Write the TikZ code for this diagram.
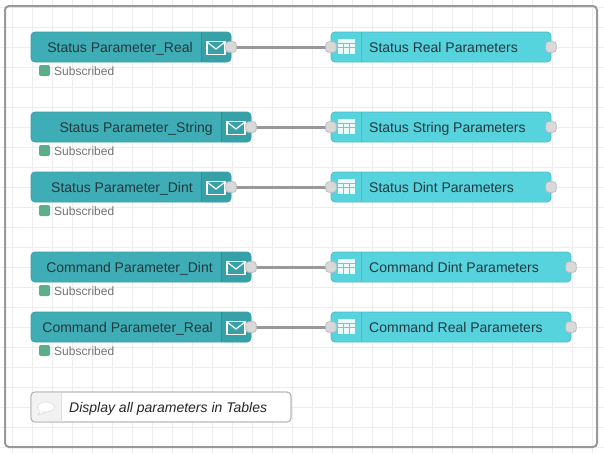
\documentclass[tikz,border=0pt]{standalone}
\usepackage{fontspec}
\setmainfont{Liberation Sans}
\definecolor{gridc}{HTML}{EDEDED}
\definecolor{framec}{HTML}{999999}
\definecolor{inc}{HTML}{3FADB5}
\definecolor{inb}{HTML}{38A0A7}
\definecolor{indiv}{HTML}{2F8E95}
\definecolor{outc}{HTML}{57D3DE}
\definecolor{outb}{HTML}{4DBBC5}
\definecolor{labc}{HTML}{22383E}
\definecolor{portc}{HTML}{D9D9D9}
\definecolor{portb}{HTML}{BDBDBD}
\definecolor{wirec}{HTML}{999999}
\definecolor{statc}{HTML}{5AAE8A}
\tikzset{x=1pt,y=-1pt,
  innode/.style={draw=inb,line width=.8pt,fill=inc,rounded corners=4pt,anchor=west,minimum height=30pt,inner sep=0pt,outer sep=0pt},
  outnode/.style={draw=outb,line width=.8pt,fill=outc,rounded corners=4pt,anchor=west,minimum height=30pt,inner sep=0pt,outer sep=0pt},
  port/.style={draw=portb,line width=.8pt,fill=portc,rounded corners=3pt,minimum size=10.5pt,inner sep=0pt,outer sep=0pt},
  lab/.style={text=labc,font=\fontsize{14}{16}\selectfont,inner sep=0pt},
  stat/.style={fill=statc,draw=none,rounded corners=2pt,minimum size=11pt,inner sep=0pt},
  stattext/.style={text=black!55,font=\fontsize{12}{14}\selectfont,anchor=base west,inner sep=0pt},
  wire/.style={draw=wirec,line width=3pt},
  icon/.style={draw=white,line width=1.4pt}}
% #1 name, #2 y, #3 width, #4 label, #5 right width, #6 right label
\newcommand{\flowrow}[6]{%
  \node[innode,minimum width=#3pt] (in#1) at (31,#2) {};
  \fill[inb,rounded corners=4pt] (31+#3-30,#2-15) rectangle (31+#3,#2+15);
  \fill[inb] (31+#3-30,#2-15) rectangle (31+#3-10,#2+15);
  \draw[indiv,line width=.5pt] (31+#3-30,#2-15) -- (31+#3-30,#2+15);
  \node[lab,anchor=base east] (tin#1) at (31+#3-38,#2+5) {#4};
  \draw[icon,line join=round] (31+#3-24,#2-5.5) rectangle (31+#3-6,#2+7.5);
  \draw[icon,line width=1.2pt] (31+#3-24,#2-5) -- (31+#3-15,#2+2) -- (31+#3-6,#2-5);
  \node[stat] (st#1) at (44.5,#2+23.5) {};
  \node[stattext] (stt#1) at (54,#2+28) {Subscribed};
  \node[outnode,minimum width=#5pt] (out#1) at (331,#2) {};
  \draw[outb,line width=.6pt] (361,#2-15) -- (361,#2+15);
  \node[lab,anchor=base west] (tout#1) at (369,#2+5) {#6};
  \fill[white!88!outc] (338,#2-8) rectangle (355,#2-3.6);
  \foreach \xx in {338,344,350}{\foreach \yy in {-3,0.7,4.4}{
    \fill[white!88!outc] (\xx,#2+\yy) rectangle (\xx+5,#2+\yy+3);}}
  \node[port] (pa#1) at (31+#3,#2) {};
  \node[port] (pb#1) at (331,#2) {};
  \node[port] (pc#1) at (331+#5,#2) {};
  \begin{pgfonlayer}{wires}
  \draw[wire] (pa#1) -- (pb#1);
  \end{pgfonlayer}
}
\pgfdeclarelayer{wires}
\pgfdeclarelayer{bg}
\pgfsetlayers{bg,wires,main}
\begin{document}
\begin{tikzpicture}
\useasboundingbox (0,0) rectangle (604,453);
\begin{pgfonlayer}{bg}
\fill[white] (0,0) rectangle (604,453);
\foreach \gx in {12,32,...,592} {\draw[gridc,line width=.8pt] (\gx,0) -- (\gx,453);}
\foreach \gy in {7,27,...,447} {\draw[gridc,line width=.8pt] (0,\gy) -- (604,\gy);}
\node[draw=framec,line width=2pt,rounded corners=4pt,minimum width=592pt,minimum height=441pt,inner sep=0pt,outer sep=0pt,anchor=north west] (frame) at (5,6) {};
\end{pgfonlayer}
\flowrow{a}{47}{200}{Status Parameter\_Real}{220}{Status Real Parameters}
\flowrow{b}{127}{220}{Status Parameter\_String}{220}{Status String Parameters}
\flowrow{c}{187}{200}{Status Parameter\_Dint}{220}{Status Dint Parameters}
\flowrow{d}{267}{220}{Command Parameter\_Dint}{240}{Command Dint Parameters}
\flowrow{e}{327}{220}{Command Parameter\_Real}{240}{Command Real Parameters}
\node[draw=black!30,line width=.8pt,fill=white,rounded corners=4pt,minimum width=260pt,minimum height=30pt,inner sep=0pt,outer sep=0pt,anchor=west] (cmt) at (31,407) {};
\begin{scope}
\clip[rounded corners=4pt] (31.5,392.5) rectangle (291,421.5);
\fill[black!5] (31,392) rectangle (61,422);
\end{scope}
\draw[black!30,line width=.8pt,rounded corners=4pt] (31,392) rectangle (291,422);
\draw[black!12,line width=.6pt] (61,392.5) -- (61,421.5);
\draw[white,fill=white,draw=black!14,line width=.6pt] (41,410) -- (38,415) -- (46,412) -- cycle;
\draw[fill=white,draw=black!14,line width=.6pt] (46,407) ellipse (8.5pt and 5pt);
\fill[white] (42,410) ellipse (3pt and 1.6pt);
\node[lab,anchor=base west,text=black!85,font=\fontsize{14}{16}\selectfont\itshape] (tcmt) at (69,412) {Display all parameters in Tables};
\end{tikzpicture}
\end{document}
